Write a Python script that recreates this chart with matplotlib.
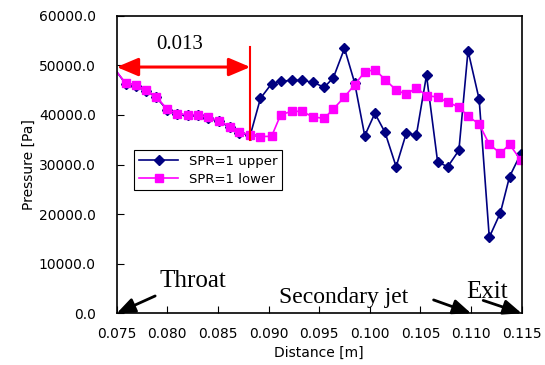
import numpy as np
import matplotlib
matplotlib.use('Agg')
import matplotlib.pyplot as plt

# ==========================================================
# DADOS
# ==========================================================
distance = [0.0750, 0.0759, 0.0769, 0.0779, 0.0789, 0.0800, 0.0810, 0.0820,
            0.0830, 0.0840, 0.0851, 0.0862, 0.0871, 0.0882, 0.0892, 0.0903,
            0.0912, 0.0923, 0.0933, 0.0944, 0.0955, 0.0964, 0.0975, 0.0985,
            0.0995, 0.1005, 0.1015, 0.1026, 0.1036, 0.1046, 0.1056, 0.1067,
            0.1077, 0.1088, 0.1097, 0.1108, 0.1118, 0.1129, 0.1138, 0.1149]

p_lower = [48700, 46370, 45970, 44960, 43670, 41130, 40240, 40040,
           40040, 39510, 38830, 37620, 36550, 35950, 35640, 35680,
           40040, 40720, 40720, 39570, 39310, 41190, 43610, 46090,
           48650, 49150, 47130, 45020, 44150, 45480, 43870, 43610,
           42540, 41590, 39720, 38160, 34070, 32260, 34070, 30900]

p_upper = [48700, 46250, 45850, 44850, 43550, 41000, 40100, 39900,
           39900, 39400, 38700, 37500, 36450, 35950, 43340, 46290,
           46770, 46970, 46970, 46570, 45560, 47500, 53420, 46490,
           35800, 40320, 36490, 29560, 36290, 35950, 47980, 30500,
           29560, 32860, 52940, 43140, 15320, 20280, 27540, 32120]

x_ticks = [0.075, 0.080, 0.085, 0.090, 0.095, 0.100, 0.105, 0.110, 0.115]
y_ticks = [0, 10000, 20000, 30000, 40000, 50000, 60000]

# ==========================================================
# FIGURA
# ==========================================================
fig = plt.figure(figsize=(5.45, 3.65), dpi=100)
ax = fig.add_axes([0.2141, 0.1416, 0.7431, 0.8154])

# o primeiro ponto fica na borda, sem marcador visível
ax.plot(distance, p_upper, color='#000080', lw=1.2, marker='D', ms=5,
        markevery=slice(1, None), label='SPR=1 upper', zorder=2)
ax.plot(distance, p_lower, color='#FF00FF', lw=1.2, marker='s', ms=6,
        markevery=slice(1, None), label='SPR=1 lower', zorder=2.5)

ax.set_xlim(0.075, 0.115)
ax.set_ylim(0, 60000)
ax.set_xticks(x_ticks)
ax.set_xticklabels([f'{v:.3f}' for v in x_ticks])
ax.set_yticks(y_ticks)
ax.set_yticklabels([f'{v:.1f}' for v in y_ticks])
ax.tick_params(direction='in', length=5, labelsize=10)
ax.tick_params(axis='x', pad=10)
ax.tick_params(axis='y', pad=15)
ax.set_xlabel('Distance [m]', fontsize=10, labelpad=3)
ax.set_ylabel('Pressure [Pa]', fontsize=10, labelpad=2)
for s in ax.spines.values():
    s.set_linewidth(1.2)

# anotações: cota 0.013
ax.annotate('', xy=(0.075, 49650), xytext=(0.0882, 49650),
            arrowprops=dict(arrowstyle='<|-|>,head_length=1.3,head_width=0.55',
                            color='red', lw=2.2, shrinkA=0, shrinkB=0))
ax.plot([0.0882, 0.0882], [34900, 53750], color='red', lw=1.5, zorder=3)
ax.text(0.0812, 52200, '0.013', fontsize=15, family='Liberation Serif',
        ha='center', va='bottom')

# setas Throat / Secondary jet / Exit
arrow_kw = dict(arrowstyle='-|>,head_length=1.1,head_width=0.45',
                color='black', lw=2, shrinkA=0, shrinkB=0)
ax.annotate('', xy=(0.075, 0), xytext=(0.0788, 3500),
            arrowprops=arrow_kw, annotation_clip=False)
ax.annotate('', xy=(0.1100, 0), xytext=(0.1063, 2700),
            arrowprops=arrow_kw, annotation_clip=False)
ax.annotate('', xy=(0.1150, 0), xytext=(0.1112, 2600),
            arrowprops=arrow_kw, annotation_clip=False)
ax.text(0.0792, 5300, 'Throat', fontsize=18, family='Liberation Serif')
ax.text(0.0910, 2000, 'Secondary jet', fontsize=17, family='Liberation Serif')
ax.text(0.1095, 3100, 'Exit', fontsize=18, family='Liberation Serif')

leg = ax.legend(loc='upper left', bbox_to_anchor=(0.043, 0.549), fontsize=9.5,
                fancybox=False, edgecolor='black', framealpha=1,
                handlelength=3, borderpad=0.35, labelspacing=0.4,
                borderaxespad=0)
leg.get_frame().set_linewidth(0.8)

fig.savefig('out.png', dpi=100)
